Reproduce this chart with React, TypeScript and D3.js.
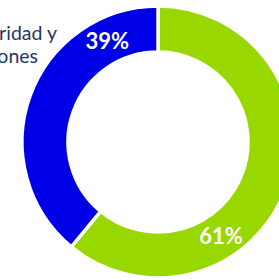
import React, {useEffect, useRef} from 'react';
import * as d3 from 'd3';

const categories = ['Otros', 'Seguridad y Instalaciones'];
const values = [61, 39];
const valueLabels = ['61%', '39%'];
const legendLines = ['Seguridad y', 'Instalaciones'];

const COLORS = ['#99D700', '#0000E6'];

const App: React.FC = () => {
    const svgRef = useRef<SVGSVGElement>(null);
    const width = 279;
    const height = 280;

    useEffect(() => {
        const svg = d3.select(svgRef.current);
        svg.selectAll('*').remove();

        const cx = 158;
        const cy = 142;
        const outerR = 136;
        const innerR = 90;

        const pie = d3.pie<number>().sort(null)(values);
        const arc = d3.arc<d3.PieArcDatum<number>>()
            .innerRadius(innerR)
            .outerRadius(outerR);

        const g = svg.append('g').attr('transform', `translate(${cx},${cy})`);

        g.selectAll('path')
            .data(pie)
            .enter().append('path')
            .attr('d', arc)
            .attr('fill', (_, i) => COLORS[i])
            .attr('stroke', '#fff')
            .attr('stroke-width', 3.5);

        // label placement: offset from slice edges (the original puts them off-centre)
        const labelAngle = (d: d3.PieArcDatum<number>, i: number) =>
            i === 0 ? d.startAngle + (d.endAngle - d.startAngle) * 0.665 : d.endAngle - (d.endAngle - d.startAngle) * 0.19;
        const labelR = (innerR + outerR) / 2;

        g.selectAll('text.val')
            .data(pie)
            .enter().append('text')
            .attr('class', 'val')
            .attr('transform', (d, i) => {
                const [x, y] = d3.pointRadial(labelAngle(d, i), labelR);
                return `translate(${x},${y})`;
            })
            .attr('text-anchor', 'middle')
            .attr('dy', '0.36em')
            .attr('fill', '#fff')
            .style('font-family', 'Lato, sans-serif')
            .style('font-weight', 'bold')
            .style('font-size', '22px')
            .text((_, i) => valueLabels[i]);

        // legend text, cut off at left edge
        const legend = svg.append('g');
        legend.selectAll('text')
            .data(legendLines)
            .enter().append('text')
            .attr('x', (_, i) => (i === 0 ? 57 : 38))
            .attr('y', (_, i) => 40 + i * 23)
            .attr('text-anchor', 'end')
            .attr('fill', '#1F3864')
            .style('font-family', 'Lato, sans-serif')
            .style('font-size', '19.5px')
            .text(d => d);
    }, []);

    return (
        <svg
            ref={svgRef}
            width={width}
            height={height}
            style={{position: 'absolute', left: 0, top: 0, background: '#fff'}}
            aria-label={categories.join(', ')}
        />
    );
};

export default App;
